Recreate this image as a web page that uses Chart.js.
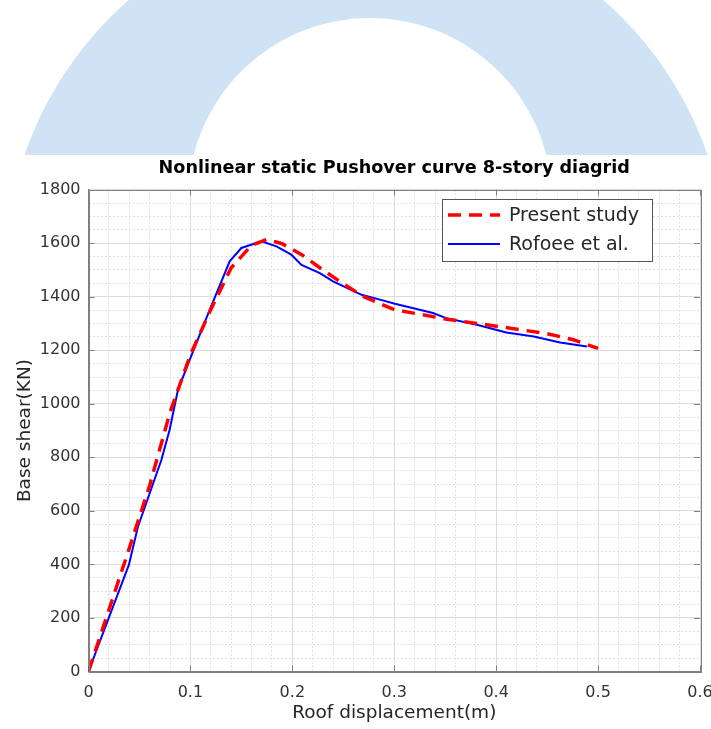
<!DOCTYPE html>
<html>
<head>
<meta charset="utf-8">
<script src="https://cdn.jsdelivr.net/npm/chart.js@4.4.1/dist/chart.umd.min.js"></script>
<style>
  html, body { margin: 0; padding: 0; background: #fff; }
  #wrap { width: 711px; height: 729px; position: relative; }
</style>
</head>
<body>
<div id="wrap"><canvas id="pushover"></canvas></div>
<script>
// Present study (red dashed)
const presentX = [0, 0.02, 0.04, 0.06, 0.08, 0.10, 0.12, 0.14, 0.16, 0.175, 0.19, 0.21, 0.23, 0.25, 0.27, 0.30, 0.35, 0.40, 0.45, 0.475, 0.50];
const presentY = [0, 230, 460, 695, 968, 1183, 1352, 1508, 1592, 1614, 1598, 1555, 1500, 1448, 1400, 1352, 1317, 1290, 1262, 1240, 1207];

// Rofoee et al. (blue solid)
const rofoeeX = [0, 0.0396, 0.0485, 0.0715, 0.0796, 0.0878, 0.0993, 0.1189, 0.1385, 0.150, 0.1697, 0.1844, 0.199, 0.209, 0.227, 0.240, 0.268, 0.286, 0.3006, 0.338, 0.351, 0.381, 0.410, 0.437, 0.4627, 0.489];
const rofoeeY = [0, 398, 541, 790, 903, 1052, 1164, 1351, 1532, 1582, 1607, 1588, 1557, 1519, 1488, 1457, 1407, 1389, 1374, 1339, 1320, 1295, 1266, 1251, 1229, 1214];

const seriesNames = ['Present study', 'Rofoee et al.'];

const toPoints = (xs, ys) => xs.map((x, i) => ({ x: x, y: ys[i] }));
const isMajorX = v => Math.abs(v * 10 - Math.round(v * 10)) < 1e-6;
const isMajorY = v => Math.abs(v / 200 - Math.round(v / 200)) < 1e-6;

Chart.defaults.font.family = 'DejaVu Sans';
Chart.defaults.color = '#333';

// Background with the faint logo ring at the top
const backdrop = {
    id: 'backdrop',
    beforeDraw(chart) {
        const ctx = chart.ctx;
        ctx.save();
        ctx.fillStyle = '#fff';
        ctx.fillRect(0, 0, chart.width, chart.height);
        ctx.beginPath();
        ctx.rect(0, 0, chart.width, 155);
        ctx.clip();
        ctx.fillStyle = '#cfe3f5';
        ctx.beginPath();
        ctx.arc(366, 272, 361, 0, Math.PI * 2);
        ctx.fill();
        ctx.fillStyle = '#fff';
        ctx.beginPath();
        ctx.arc(370, 200, 182, 0, Math.PI * 2);
        ctx.fill();
        ctx.restore();
    }
};

// Box around the plot, inward ticks, legend
const frame = {
    id: 'frame',
    afterDraw(chart) {
        const ctx = chart.ctx;
        const a = chart.chartArea;
        const xs = chart.scales.x, ys = chart.scales.y;
        ctx.save();
        ctx.strokeStyle = '#808080';
        ctx.lineWidth = 1;
        ctx.strokeRect(Math.round(a.left) + 0.5, Math.round(a.top) + 0.5, Math.round(a.right - a.left), Math.round(a.bottom - a.top));
        ctx.beginPath();
        xs.ticks.forEach(t => {
            if (!isMajorX(t.value)) return;
            const px = Math.round(xs.getPixelForValue(t.value)) + 0.5;
            ctx.moveTo(px, a.bottom); ctx.lineTo(px, a.bottom - 6);
            ctx.moveTo(px, a.top); ctx.lineTo(px, a.top + 6);
        });
        ys.ticks.forEach(t => {
            if (!isMajorY(t.value)) return;
            const py = Math.round(ys.getPixelForValue(t.value)) + 0.5;
            ctx.moveTo(a.left, py); ctx.lineTo(a.left + 6, py);
            ctx.moveTo(a.right, py); ctx.lineTo(a.right - 6, py);
        });
        ctx.stroke();

        // legend
        const lx = 442, ly = 199, lw = 210, lh = 62;
        ctx.fillStyle = '#fff';
        ctx.fillRect(lx, ly, lw, lh);
        ctx.strokeStyle = '#555';
        ctx.strokeRect(lx + 0.5, ly + 0.5, lw, lh);
        ctx.font = '19px "DejaVu Sans"';
        ctx.textBaseline = 'middle';
        ctx.fillStyle = '#262626';
        chart.data.datasets.forEach((ds, i) => {
            const y = ly + 16 + i * 29;
            ctx.strokeStyle = ds.borderColor;
            ctx.lineWidth = ds.borderWidth;
            ctx.setLineDash(ds.borderDash || []);
            ctx.beginPath();
            ctx.moveTo(lx + 6, y);
            ctx.lineTo(lx + 58, y);
            ctx.stroke();
            ctx.setLineDash([]);
            ctx.fillText(ds.label, lx + 67, y + 1);
        });
        ctx.restore();
    }
};

new Chart(document.getElementById('pushover'), {
    type: 'line',
    data: {
        datasets: [{
            label: seriesNames[0],
            data: toPoints(presentX, presentY),
            borderColor: '#ff0000',
            borderWidth: 3.5,
            borderDash: [13, 8],
            pointRadius: 0,
            tension: 0,
            fill: false
        }, {
            label: seriesNames[1],
            data: toPoints(rofoeeX, rofoeeY),
            borderColor: '#0000ff',
            borderWidth: 2,
            pointRadius: 0,
            tension: 0,
            fill: false
        }]
    },
    options: {
        responsive: true,
        maintainAspectRatio: false,
        animation: false,
        layout: { padding: { top: 150, right: 11, left: 0, bottom: 0 } },
        plugins: {
            legend: { display: false },
            tooltip: { enabled: false },
            title: {
                display: true,
                fullSize: false,
                text: 'Nonlinear static Pushover curve 8-story diagrid',
                color: '#000',
                font: { size: 17.6, weight: 'bold' },
                padding: { top: 8, bottom: 10.5 }
            }
        },
        scales: {
            x: {
                type: 'linear',
                min: 0,
                max: 0.6,
                afterFit(scale) {
                    scale.height = 57.5;
                    scale.paddingLeft = 0;
                    scale.paddingRight = 0;
                },
                ticks: {
                    stepSize: 0.02,
                    maxTicksLimit: 100,
                    autoSkip: false,
                    maxRotation: 0,
                    padding: 12,
                    color: '#333',
                    font: { size: 16 },
                    callback: v => isMajorX(v) ? String(Math.round(v * 10) / 10) : ''
                },
                grid: {
                    drawTicks: false,
                    color: c => isMajorX(c.tick.value) ? '#dcdcdc' : '#e0e0e0'
                },
                border: {
                    color: '#808080',
                    dash: c => (c.tick && !isMajorX(c.tick.value)) ? [2, 2] : []
                },
                title: {
                    display: true,
                    text: 'Roof displacement(m)',
                    color: '#262626',
                    font: { size: 18.5 },
                    padding: { top: 0, bottom: 4.6 }
                }
            },
            y: {
                min: 0,
                max: 1800,
                afterFit(scale) {
                    scale.width = 88.5;
                },
                ticks: {
                    stepSize: 50,
                    maxTicksLimit: 100,
                    autoSkip: false,
                    padding: 8,
                    color: '#333',
                    font: { size: 16 },
                    callback: v => isMajorY(v) ? String(v) : ''
                },
                grid: {
                    drawTicks: false,
                    color: c => isMajorY(c.tick.value) ? '#dcdcdc' : '#e0e0e0'
                },
                border: {
                    color: '#808080',
                    dash: c => (c.tick && !isMajorY(c.tick.value)) ? [2, 2] : []
                },
                title: {
                    display: true,
                    text: 'Base shear(KN)',
                    color: '#262626',
                    font: { size: 18.5 },
                    padding: { top: 14, bottom: 0 }
                }
            }
        }
    },
    plugins: [backdrop, frame]
});
</script>
</body>
</html>
